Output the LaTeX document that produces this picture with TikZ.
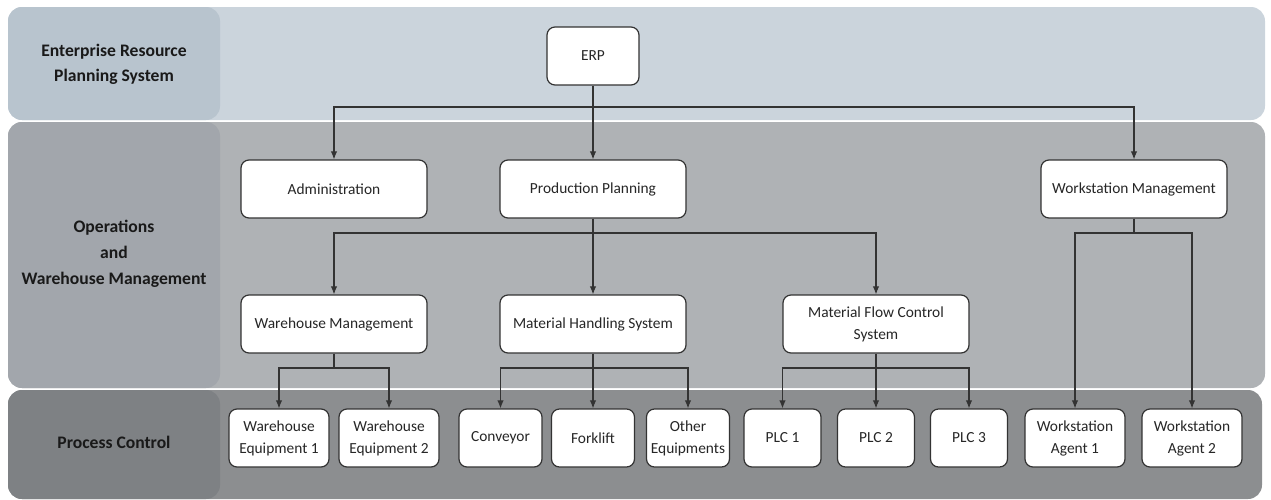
\documentclass[tikz,border=0pt]{standalone}
\usepackage{fontspec}
\setmainfont{Carlito}
\usetikzlibrary{positioning, calc, arrows.meta}
\definecolor{laneTop}{HTML}{CBD4DC}
\definecolor{laneTopHead}{HTML}{B8C4CE}
\definecolor{laneMid}{HTML}{AFB2B5}
\definecolor{laneMidHead}{HTML}{A2A6AC}
\definecolor{laneLow}{HTML}{8C8E90}
\definecolor{laneLowHead}{HTML}{7E8184}
\definecolor{boxLine}{HTML}{333333}
\definecolor{textGrey}{HTML}{262626}

\begin{document}
\begin{tikzpicture}[
    x=0.5pt, y=-0.5pt,
    box/.style={rectangle, draw=boxLine, fill=white, line width=0.6pt,
                rounded corners=4pt, minimum height=29pt, align=center,
                inner sep=1pt, text=textGrey,
                font=\fontsize{7.7}{11}\selectfont},
    wide/.style={box, minimum width=93pt},
    narrow/.style={box, minimum width=50pt},
    tiny/.style={box, minimum width=41.5pt},
    plc/.style={box, minimum width=38.5pt},
    lane/.style={rounded corners=7pt},
    lanelabel/.style={align=center, text=black!90,
                      font=\fontsize{8.8}{12.5}\selectfont\bfseries},
    arr/.style={-{Latex[length=4pt,width=3.2pt]}, draw=boxLine, line width=0.55pt},
    wire/.style={draw=boxLine, line width=0.55pt},
  ]
    \useasboundingbox (0,0) rectangle (1271,499);

    % lanes
    \fill[laneTop, lane] (8,7) rectangle (1265,120);
    \fill[laneTopHead, lane] (8,7) rectangle (220,120);
    \fill[laneMid, lane] (8,122) rectangle (1265,388);
    \fill[laneMidHead, lane] (8,122) rectangle (220,388);
    \fill[laneLow, lane] (8,390) rectangle (1262,499);
    \fill[laneLowHead, lane] (8,390) rectangle (220,499);

    \node[lanelabel] (ERPLANE) at (114,64) {Enterprise Resource\\Planning System};
    \node[lanelabel, font=\fontsize{8.8}{13}\selectfont\bfseries] (OPLANE) at (114,254)
      {Operations\\and\\Warehouse Management};
    \node[lanelabel] (PCLANE) at (114,442) {Process Control};

    % nodes
    \node[box, minimum width=46pt] (ERP) at (593,56) {ERP};

    \node[wide] (ADMIN) at (334,189) {Administration};
    \node[wide] (PROD) at (593,189) {Production Planning};
    \node[wide] (WSM) at (1134,189) {Workstation Management};

    \node[wide] (WHM) at (334,324) {Warehouse Management};
    \node[wide] (MHS) at (593,324) {Material Handling System};
    \node[wide] (MFCS) at (876,324) {Material Flow Control\\System};

    \node[narrow] (WEQ1) at (279,438) {Warehouse\\Equipment 1};
    \node[narrow] (WEQ2) at (389,438) {Warehouse\\Equipment 2};
    \node[tiny] (CONV) at (500.5,438) {Conveyor};
    \node[tiny] (FORK) at (593,438) {Forklift};
    \node[tiny] (OTHER) at (688,438) {Other\\Equipments};
    \node[plc] (PLC1) at (782.5,438) {PLC 1};
    \node[plc] (PLC2) at (876,438) {PLC 2};
    \node[plc] (PLC3) at (969,438) {PLC 3};
    \node[narrow] (WSA1) at (1075,438) {Workstation\\Agent 1};
    \node[narrow] (WSA2) at (1192,438) {Workstation\\Agent 2};

    % bus points
    \coordinate (ERPBUS) at (593,107);
    \coordinate (PRODBUS) at (593,233);
    \coordinate (WSMBUS) at (1134,233);
    \coordinate (WHMBUS) at (334,368);
    \coordinate (MHSBUS) at (593,368);
    \coordinate (MFCSBUS) at (876,368);

    % connectors
    \draw[arr] (ERP.south) -- (PROD.north);
    \draw[arr] (ERPBUS) -| (ADMIN.north);
    \draw[arr] (ERPBUS) -| (WSM.north);

    \draw[arr] (PROD.south) -- (MHS.north);
    \draw[arr] (PRODBUS) -| (WHM.north);
    \draw[arr] (PRODBUS) -| (MFCS.north);

    \draw[wire] (WSM.south) -- (WSMBUS);
    \draw[arr] (WSMBUS) -| (WSA1.north);
    \draw[arr] (WSMBUS) -| (WSA2.north);

    \draw[wire] (WHM.south) -- (WHMBUS);
    \draw[arr] (WHMBUS) -| (WEQ1.north);
    \draw[arr] (WHMBUS) -| (WEQ2.north);

    \draw[arr] (MHS.south) -- (FORK.north);
    \draw[arr] (MHSBUS) -| (CONV.north);
    \draw[arr] (MHSBUS) -| (OTHER.north);

    \draw[arr] (MFCS.south) -- (PLC2.north);
    \draw[arr] (MFCSBUS) -| (PLC1.north);
    \draw[arr] (MFCSBUS) -| (PLC3.north);
  \end{tikzpicture}
\end{document}
